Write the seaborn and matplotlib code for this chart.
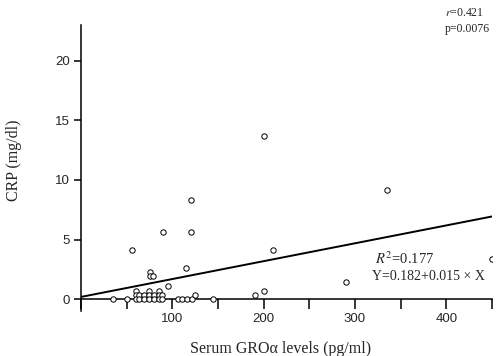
import numpy as np
import pandas as pd
import matplotlib
matplotlib.use("Agg")
import matplotlib.pyplot as plt
import seaborn as sns
from matplotlib.ticker import MultipleLocator

# Serum GRO-alpha (pg/ml) and CRP (mg/dl) per patient
gro = [35, 50, 55.5, 90, 120, 120, 200, 115, 75, 75, 79, 95, 210, 190, 200,
       290, 335, 450, 145, 106, 111, 116, 121, 125,
       60, 60, 60, 64, 64, 69, 69, 74.5, 74.5, 74.5, 80, 80, 85, 85, 85, 89, 89]
crp = [0, 0, 4.15, 5.65, 5.65, 8.35, 13.7, 2.65, 2.25, 1.95, 1.95, 1.1, 4.15, 0.35, 0.7,
       1.45, 9.15, 3.4, 0, 0, 0, 0, 0, 0.35,
       0.7, 0.35, 0, 0.35, 0, 0.35, 0, 0.7, 0.35, 0, 0.35, 0, 0.7, 0.35, 0, 0.35, 0]

# Regression reported on the chart
intercept = 0.182
slope = 0.015
r_value = 0.421
p_value = 0.0076
r_squared = 0.177

x_ticks = [100, 200, 300, 400]
y_ticks = [0, 5, 10, 15, 20]

df = pd.DataFrame({"gro": gro, "crp": crp})

sns.set_theme(style="white")
plt.rcParams["font.family"] = ["Liberation Sans", "DejaVu Sans"]
plt.rcParams["mathtext.fontset"] = "stix"

fig = plt.figure(figsize=(4.98, 3.56), dpi=100)
ax = fig.add_axes([81 / 498, 1 - 311 / 356, (492 - 81) / 498, (311 - 25) / 356])

sns.scatterplot(data=df, x="gro", y="crp", ax=ax, marker="o", s=15,
                facecolor="white", edgecolor="black", linewidth=0.7, zorder=3)

line_x = np.array([0, 450])
sns.lineplot(x=line_x, y=intercept + slope * line_x, ax=ax, color="black",
             linewidth=1.4, zorder=2)

ax.set_xlim(0, 450)
ax.set_ylim(-1, 23)

ax.spines["top"].set_visible(False)
ax.spines["right"].set_visible(False)
ax.spines["bottom"].set_position(("data", 0))
for s in ("left", "bottom"):
    ax.spines[s].set_color("black")
    ax.spines[s].set_linewidth(1.1)

ax.set_xticks(x_ticks)
ax.xaxis.set_minor_locator(MultipleLocator(50))
ax.set_yticks(y_ticks)
ax.tick_params(axis="x", which="both", direction="out", length=7, width=1.1,
               color="black", bottom=True, labelsize=9.5, pad=3)
ax.tick_params(axis="y", direction="out", length=5, width=1.1, color="black",
               left=True, labelsize=9.5, pad=3)

serif = ["Liberation Serif", "DejaVu Serif"]
ax.set_xlabel("")
ax.set_ylabel("")
fig.text(281 / 498, 1 - 349 / 356, "Serum GROα levels (pg/ml)", ha="center",
         va="center", fontsize=11.5, family=serif)
fig.text(14 / 498, 1 - 160 / 356, "CRP (mg/dl)", ha="center", va="center",
         rotation=90, fontsize=11.5, family=serif)

fig.text(445 / 498, 1 - 13 / 356, f"$r$={r_value}", ha="left", va="center",
         fontsize=8.5, family=serif)
fig.text(445 / 498, 1 - 29 / 356, f"p={p_value}", ha="left", va="center",
         fontsize=8.5, family=serif)
fig.text(375 / 498, 1 - 259 / 356, f"$R^2$={r_squared}", ha="left", va="center",
         fontsize=10.5, family=serif)
fig.text(372 / 498, 1 - 276 / 356, f"Y={intercept}+{slope} × X", ha="left",
         va="center", fontsize=10, family=serif)

fig.savefig("out.png", dpi=100)
